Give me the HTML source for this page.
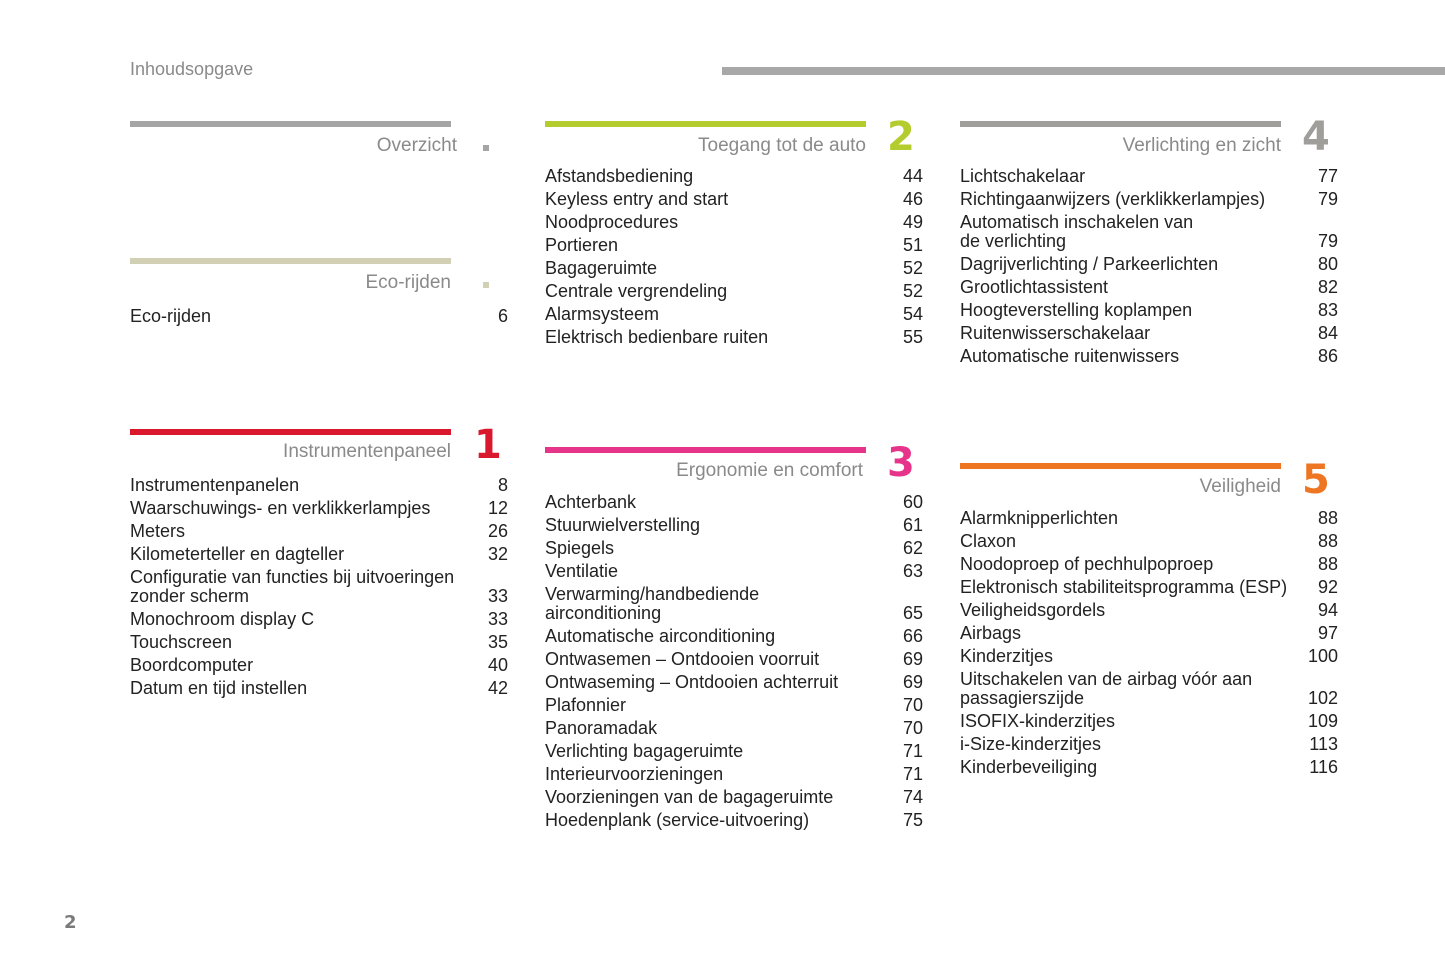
<!DOCTYPE html>
<html><head><meta charset="utf-8"><style>
*{margin:0;padding:0;box-sizing:border-box}
body{width:1445px;height:977px;background:#fff;position:relative;overflow:hidden;font-family:"Liberation Sans",Arial,sans-serif;color:#222}
.a{position:absolute}
.bar{position:absolute;height:6px;width:321px}
.t{position:absolute;font-size:19px;color:#8a8a8a;text-align:right;width:321px;line-height:24px}
.n{position:absolute;font-size:40px;font-weight:bold;line-height:42px;font-family:"DejaVu Sans","Liberation Sans",sans-serif}
.l{position:absolute;width:378px;font-size:18px}
.l div{position:relative;height:23px;line-height:23px;padding-right:40px;white-space:nowrap}
.l div span{position:absolute;right:0;bottom:0;line-height:23px}
.l div.d{height:42px;line-height:19px;padding-top:2px}
.l div.d span{bottom:0;line-height:23px}
.sq{position:absolute;width:6px;height:6px}
</style></head><body>
<div class="a" style="left:130px;top:59px;font-size:18px;color:#8a8a8a">Inhoudsopgave</div>
<div class="a" style="left:722px;top:67px;width:723px;height:8px;background:#a8a8a8"></div>

<div class="bar" style="left:130px;top:121px;background:#a5a5a5"></div>
<div class="t" style="left:136px;top:134px">Overzicht</div>
<div class="sq" style="left:483px;top:145px;background:#a5a5a5"></div>

<div class="bar" style="left:130px;top:258px;background:#d1d0b5"></div>
<div class="t" style="left:130px;top:271px">Eco-rijden</div>
<div class="sq" style="left:483px;top:282px;background:#d1d0b5"></div>
<div class="l" style="left:130px;top:305px"><div>Eco-rijden<span>6</span></div></div>

<div class="bar" style="left:130px;top:429px;background:#d9182d"></div>
<div class="t" style="left:130px;top:440px">Instrumentenpaneel</div>
<div class="n" style="left:474px;top:424px;color:#d9182d">1</div>
<div class="l" style="left:130px;top:474px">
<div>Instrumentenpanelen<span>8</span></div>
<div>Waarschuwings- en verklikkerlampjes<span>12</span></div>
<div>Meters<span>26</span></div>
<div>Kilometerteller en dagteller<span>32</span></div>
<div class="d">Configuratie van functies bij uitvoeringen<br>zonder scherm<span>33</span></div>
<div>Monochroom display C<span>33</span></div>
<div>Touchscreen<span>35</span></div>
<div>Boordcomputer<span>40</span></div>
<div>Datum en tijd instellen<span>42</span></div>
</div>

<div class="bar" style="left:545px;top:121px;background:#b5cc2e"></div>
<div class="t" style="left:545px;top:134px">Toegang tot de auto</div>
<div class="n" style="left:887px;top:116px;color:#b5cc2e">2</div>
<div class="l" style="left:545px;top:165px">
<div>Afstandsbediening<span>44</span></div>
<div>Keyless entry and start<span>46</span></div>
<div>Noodprocedures<span>49</span></div>
<div>Portieren<span>51</span></div>
<div>Bagageruimte<span>52</span></div>
<div>Centrale vergrendeling<span>52</span></div>
<div>Alarmsysteem<span>54</span></div>
<div>Elektrisch bedienbare ruiten<span>55</span></div>
</div>

<div class="bar" style="left:545px;top:447px;background:#e5348a"></div>
<div class="t" style="left:542px;top:459px">Ergonomie en comfort</div>
<div class="n" style="left:887px;top:442px;color:#e5348a">3</div>
<div class="l" style="left:545px;top:491px">
<div>Achterbank<span>60</span></div>
<div>Stuurwielverstelling<span>61</span></div>
<div>Spiegels<span>62</span></div>
<div>Ventilatie<span>63</span></div>
<div class="d">Verwarming/handbediende<br>airconditioning<span>65</span></div>
<div>Automatische airconditioning<span>66</span></div>
<div>Ontwasemen – Ontdooien voorruit<span>69</span></div>
<div>Ontwaseming – Ontdooien achterruit<span>69</span></div>
<div>Plafonnier<span>70</span></div>
<div>Panoramadak<span>70</span></div>
<div>Verlichting bagageruimte<span>71</span></div>
<div>Interieurvoorzieningen<span>71</span></div>
<div>Voorzieningen van de bagageruimte<span>74</span></div>
<div>Hoedenplank (service-uitvoering)<span>75</span></div>
</div>

<div class="bar" style="left:960px;top:121px;background:#a09e9b"></div>
<div class="t" style="left:960px;top:134px">Verlichting en zicht</div>
<div class="n" style="left:1302px;top:116px;color:#a09e9b">4</div>
<div class="l" style="left:960px;top:165px">
<div>Lichtschakelaar<span>77</span></div>
<div>Richtingaanwijzers (verklikkerlampjes)<span>79</span></div>
<div class="d">Automatisch inschakelen van<br>de verlichting<span>79</span></div>
<div>Dagrijverlichting / Parkeerlichten<span>80</span></div>
<div>Grootlichtassistent<span>82</span></div>
<div>Hoogteverstelling koplampen<span>83</span></div>
<div>Ruitenwisserschakelaar<span>84</span></div>
<div>Automatische ruitenwissers<span>86</span></div>
</div>

<div class="bar" style="left:960px;top:463px;background:#ee7623"></div>
<div class="t" style="left:960px;top:475px">Veiligheid</div>
<div class="n" style="left:1302px;top:459px;color:#ee7623">5</div>
<div class="l" style="left:960px;top:507px">
<div>Alarmknipperlichten<span>88</span></div>
<div>Claxon<span>88</span></div>
<div>Noodoproep of pechhulpoproep<span>88</span></div>
<div>Elektronisch stabiliteitsprogramma (ESP)<span>92</span></div>
<div>Veiligheidsgordels<span>94</span></div>
<div>Airbags<span>97</span></div>
<div>Kinderzitjes<span>100</span></div>
<div class="d">Uitschakelen van de airbag vóór aan<br>passagierszijde<span>102</span></div>
<div>ISOFIX-kinderzitjes<span>109</span></div>
<div>i-Size-kinderzitjes<span>113</span></div>
<div>Kinderbeveiliging<span>116</span></div>
</div>

<div class="a" style="left:64px;top:912px;font-size:18px;font-weight:bold;color:#7a7a7a;font-family:'DejaVu Sans',sans-serif">2</div>
</body></html>
